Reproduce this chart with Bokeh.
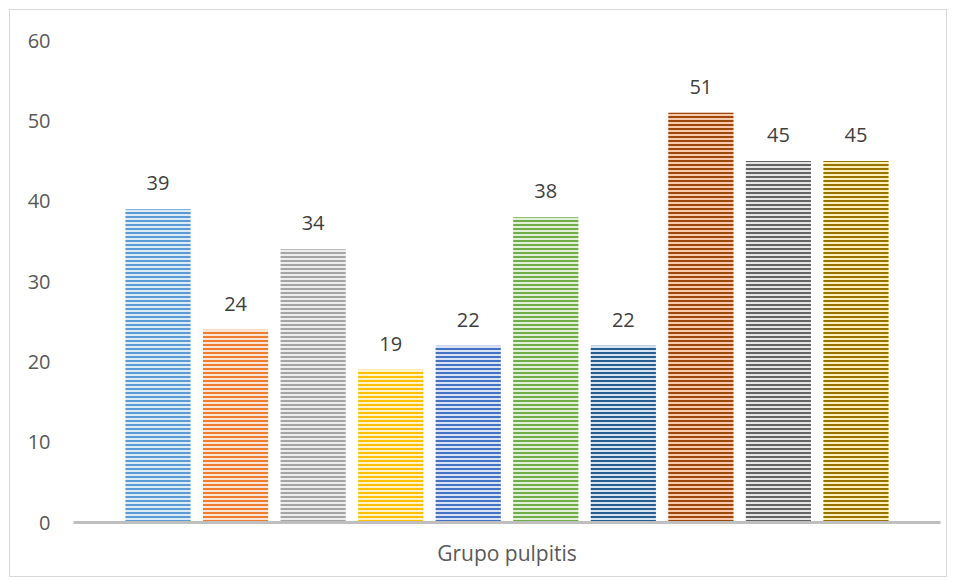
from bokeh.plotting import figure
from bokeh.models import ColumnDataSource, LabelSet, FixedTicker, Range1d
from bokeh.core.properties import value
from bokeh.embed import file_html
from bokeh.resources import INLINE

# Data
series = ["S1", "S2", "S3", "S4", "S5", "S6", "S7", "S8", "S9", "S10"]
values = [39, 24, 34, 19, 22, 38, 22, 51, 45, 45]
category = "Grupo pulpitis"
y_ticks = [0, 10, 20, 30, 40, 50, 60]

line_colors = ["#5B9BD5", "#ED7D31", "#A5A5A5", "#FFC000", "#4472C4",
               "#70AD47", "#255E91", "#9E480E", "#636363", "#997300"]
fill_colors = ["#DDEBF7", "#FBE5D6", "#EDEDED", "#FFF2CC", "#DAE3F3",
               "#E2F0D9", "#D6E4F2", "#F8CBAD", "#E7E6E6", "#FFF0B3"]

FONT = "Open Sans"

xs = list(range(1, len(values) + 1))
src = ColumnDataSource(dict(x=xs, top=values, lc=line_colors, fc=fill_colors,
                            lbl=[str(v) for v in values]))

p = figure(width=938, height=568, output_backend="svg", toolbar_location=None,
           x_range=Range1d(-0.09, 11.09), y_range=Range1d(0, 60),
           min_border_left=63, min_border_right=8, min_border_top=30,
           min_border_bottom=56)
p.styles = {"border": "1px solid #D9D9D9", "margin-left": "9px", "margin-top": "9px"}
p.outline_line_color = None
p.grid.visible = False
p.background_fill_color = "white"
p.border_fill_color = "white"

p.vbar(x="x", top="top", bottom=0, width=0.84, source=src,
       fill_color="fc", line_color=None,
       hatch_pattern="horizontal_line", hatch_color="lc",
       hatch_scale=4, hatch_weight=2)

labels = LabelSet(x="x", y="top", text="lbl", source=src, y_offset=26,
                  text_align="center", text_baseline="middle",
                  text_font=value(FONT), text_font_size="20px", text_color="#404040")
p.add_layout(labels)

# y axis
p.yaxis.ticker = FixedTicker(ticks=y_ticks)
p.yaxis.axis_line_color = None
p.yaxis.major_tick_line_color = None
p.yaxis.minor_tick_line_color = None
p.yaxis.major_label_standoff = 17
p.yaxis.major_label_text_font = FONT
p.yaxis.major_label_text_font_size = "20px"
p.yaxis.major_label_text_color = "#595959"

# x axis
p.xaxis.ticker = FixedTicker(ticks=[])
p.xaxis.axis_line_color = "#BFBFBF"
p.xaxis.axis_line_width = 3
p.xaxis.major_tick_line_color = None
p.xaxis.minor_tick_line_color = None
p.xaxis.axis_label = category
p.xaxis.axis_label_text_font = FONT
p.xaxis.axis_label_text_font_style = "normal"
p.xaxis.axis_label_text_font_size = "21px"
p.xaxis.axis_label_text_color = "#595959"
p.xaxis.axis_label_standoff = 16

open("out.html", "w").write(file_html(p, INLINE))
